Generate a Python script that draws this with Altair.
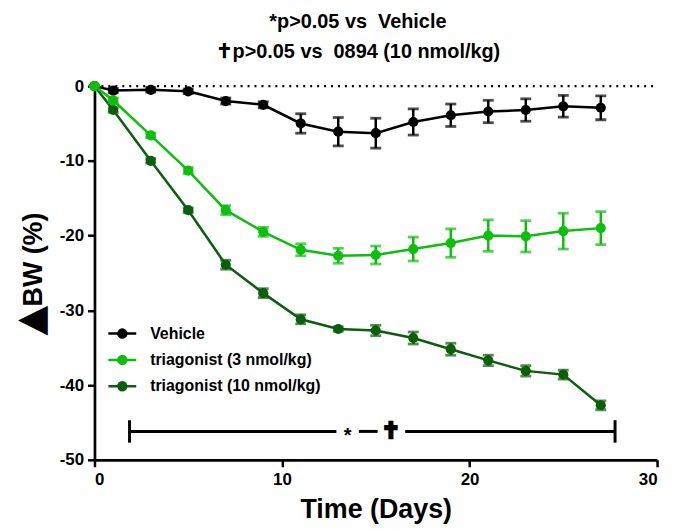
import altair as alt
import pandas as pd

# ---- data ----
days = [0, 1, 3, 5, 7, 9, 11, 13, 15, 17, 19, 21, 23, 25, 27]
series_names = ["Vehicle", "triagonist (3 nmol/kg)", "triagonist (10 nmol/kg)"]
series_colors = ["#000000", "#0DBF0D", "#0B5E0B"]

veh_mean = [0, -0.6, -0.5, -0.7, -2.0, -2.5, -5.0, -6.1, -6.3, -4.8, -3.9, -3.4, -3.2, -2.7, -2.9]
veh_sem = [0, 0.3, 0.3, 0.3, 0.4, 0.4, 1.3, 1.9, 2.0, 1.75, 1.5, 1.5, 1.5, 1.45, 1.6]
low_mean = [0, -1.9, -6.6, -11.3, -16.6, -19.5, -21.9, -22.7, -22.6, -21.8, -21.0, -20.0, -20.1, -19.4, -19.0]
low_sem = [0, 0.3, 0.3, 0.4, 0.6, 0.6, 0.8, 1.0, 1.2, 1.6, 1.9, 2.1, 2.1, 2.4, 2.2]
high_mean = [0, -3.2, -10.0, -16.6, -23.9, -27.7, -31.2, -32.5, -32.7, -33.7, -35.2, -36.7, -38.1, -38.6, -42.7]
high_sem = [0, 0.3, 0.3, 0.3, 0.6, 0.6, 0.6, 0.3, 0.7, 0.8, 0.8, 0.7, 0.7, 0.6, 0.6]

x_ticks = [0, 10, 20, 30]
y_ticks = [0, -10, -20, -30, -40, -50]

# significance bracket
bracket_x = [1.87, 14.1, 16.57]
bracket_x2 = [12.9, 15.1, 27.76]
bracket_y = -46.2
cap_x = [1.87, 27.76]
cap_lo, cap_hi = -47.7, -44.7
mark_x = [13.5, 15.8]
mark_txt = ["*", "\u271D"]

title_lines = ["*p>0.05 vs\u00a0 Vehicle", "\u271Dp>0.05 vs\u00a0 0894 (10 nmol/kg)"]
y_title = "BW (%)"
y_title_symbol = "\u25B2"

FONT = "Liberation Sans"

rows = []
for name, m, s in zip(series_names, [veh_mean, low_mean, high_mean], [veh_sem, low_sem, high_sem]):
    for d, mm, ss in zip(days, m, s):
        rows.append({"day": d, "mean": mm, "lo": mm - ss, "hi": mm + ss, "group": name})
df = pd.DataFrame(rows)

xscale = alt.Scale(domain=[0, 30], nice=False)
yscale = alt.Scale(domain=[-50, 0], nice=False)
color_scale = alt.Scale(domain=series_names, range=series_colors)

# line with a "filled" dot made of concentric rings (works stroked or filled)
legend_path = ("M-2.8,0L2.8,0"
               "M-0.25,0A0.25,0.25 0 1,0 0.25,0A0.25,0.25 0 1,0 -0.25,0Z"
               "M-0.55,0A0.55,0.55 0 1,0 0.55,0A0.55,0.55 0 1,0 -0.55,0Z"
               "M-0.8,0A0.8,0.8 0 1,0 0.8,0A0.8,0.8 0 1,0 -0.8,0Z")

legend = alt.Legend(
    title=None, orient="none", legendX=20, legendY=241,
    symbolType=legend_path, symbolSize=100, symbolStrokeWidth=2.5, symbolOpacity=1,
    labelFont=FONT, labelFontSize=16, labelFontWeight="bold", labelColor="black",
    rowPadding=8.5, labelOffset=20, labelLimit=400,
)

x_enc = alt.X("day:Q", scale=xscale, axis=alt.Axis(
    values=x_ticks, title="Time (Days)", grid=False,
    labelFont=FONT, labelFontSize=17, labelFontWeight="bold", labelColor="black",
    titleFont=FONT, titleFontSize=27, titleFontWeight="bold", titleColor="black",
    titlePadding=9, labelPadding=5,
    domainColor="black", domainWidth=2.7, tickColor="black", tickWidth=2.5, tickSize=7))
y_enc = alt.Y("mean:Q", scale=yscale, axis=alt.Axis(
    values=y_ticks, title=y_title, grid=False,
    labelExpr="datum.value + ''",
    labelFont=FONT, labelFontSize=17, labelFontWeight="bold", labelColor="black",
    titleFont=FONT, titleFontSize=27, titleFontWeight="bold", titleColor="black",
    titleAngle=270, titleX=-53, titleY=174, titleAlign="center", titleBaseline="alphabetic",
    labelPadding=4,
    domainColor="black", domainWidth=2.7, tickColor="black", tickWidth=2.5, tickSize=7))

# zero reference line
zero = alt.Chart(pd.DataFrame({"a": [0], "b": [30], "y": [0]})).mark_rule(
    color="black", strokeWidth=2.2, strokeDash=[2, 5]).encode(
    x=alt.X("a:Q", scale=xscale), x2="b:Q", y=alt.Y("y:Q", scale=yscale))

layers = [zero]
draw_order = [series_names[0], series_names[2], series_names[1]]
col = alt.Color("group:N", scale=color_scale, legend=legend)
for i, name in enumerate(draw_order):
    base = alt.Chart(df).transform_filter(alt.datum.group == name)
    line = base.mark_line(strokeWidth=2.5).encode(x=x_enc, y=y_enc, color=col)
    err = base.mark_rule(strokeWidth=2.5).encode(
        x="day:Q", y=alt.Y("lo:Q", scale=yscale), y2="hi:Q", color=col)
    caps_lo = base.mark_tick(orient="horizontal", size=11, thickness=2.8).encode(
        x="day:Q", y=alt.Y("lo:Q", scale=yscale), color=col)
    caps_hi = base.mark_tick(orient="horizontal", size=11, thickness=2.8).encode(
        x="day:Q", y=alt.Y("hi:Q", scale=yscale), color=col)
    pts = base.mark_point(filled=True, shape="circle", size=105, opacity=1).encode(
        x="day:Q", y="mean:Q", color=col)
    layers += [line, err, caps_lo, caps_hi, pts]

br = alt.Chart(pd.DataFrame({"x": bracket_x, "x2": bracket_x2, "y": [bracket_y] * 3})).mark_rule(
    color="black", strokeWidth=3).encode(
    x=alt.X("x:Q", scale=xscale), x2="x2:Q", y=alt.Y("y:Q", scale=yscale))
caps = alt.Chart(pd.DataFrame({"x": cap_x, "y": [cap_lo] * 2, "y2": [cap_hi] * 2})).mark_rule(
    color="black", strokeWidth=3).encode(
    x=alt.X("x:Q", scale=xscale), y=alt.Y("y:Q", scale=yscale), y2="y2:Q")
star = alt.Chart(pd.DataFrame({"x": mark_x[:1], "y": [bracket_y], "t": mark_txt[:1]})).mark_text(
    font=FONT, fontSize=20, fontWeight="bold", color="black", baseline="middle", dy=5).encode(
    x=alt.X("x:Q", scale=xscale), y=alt.Y("y:Q", scale=yscale), text="t:N")
dag = alt.Chart(pd.DataFrame({"x": mark_x[1:], "y": [bracket_y], "t": mark_txt[1:]})).mark_text(
    font="DejaVu Sans", fontSize=22, fontWeight="bold", color="black", stroke="black",
    strokeWidth=2.5, baseline="middle", dy=0).encode(
    x=alt.X("x:Q", scale=xscale), y=alt.Y("y:Q", scale=yscale), text="t:N")
tri = alt.Chart(pd.DataFrame({"t": [y_title_symbol]})).mark_text(
    font="DejaVu Sans", fontSize=39, color="black", angle=270, align="center",
    baseline="middle").encode(x=alt.value(-64), y=alt.value(236), text="t:N")
layers += [br, caps, star, dag, tri]

chart = alt.layer(*layers).properties(
    width=566, height=376,
    padding={"left": 87, "top": 77, "right": 8, "bottom": 64},
    autosize=alt.AutoSizeParams(type="none"),
    title=alt.TitleParams(text=title_lines, font=FONT, fontSize=20, fontWeight="bold",
                          color="black", anchor="middle", dx=-18, offset=15, lineHeight=30),
).configure_view(stroke=None).configure_axis(labelOverlap=False)

chart.save("out.html", embed_options={"renderer": "svg", "actions": False})
